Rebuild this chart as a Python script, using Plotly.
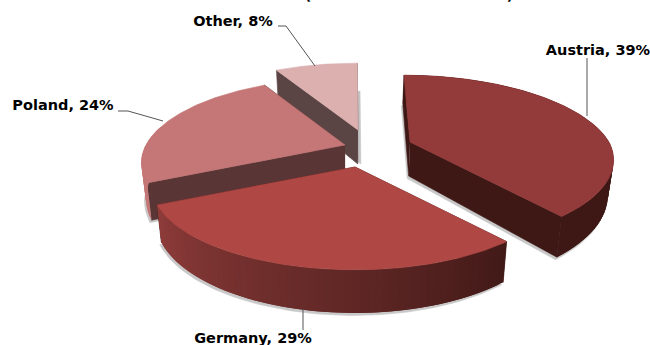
import numpy as np
import plotly.graph_objects as go

# Share of total by country, clockwise from twelve o'clock
countries = ["Austria", "Germany", "Poland", "Other"]
shares = [39, 29, 24, 8]

# Slice styling
top_colors = ["#933B3A", "#AF4845", "#C47776", "#DDB0B0"]
cut_colors = ["#3E1815", "#421A18", "#593535", "#5A4444"]
rim_left = ["#3E1815", "#8E3C3A", "#C47776", "#DDB0B0"]
rim_right = ["#3E1815", "#421A18", "#C47776", "#DDB0B0"]
# Exploded apex of each slice on the page
apex_x = [410, 355, 345, 358]
apex_y = [142, 167, 145, 130]
draw_order = [3, 2, 0, 1]

RX, RY, PERSP, DEPTH = 199.0, 81.0, 0.212, 34.0
VANISH_X, CONVERGE, FLOOR_CONVERGE = 350.0, 0.1, 0.022
W, H = 650, 345


def project(theta, ax):
    """Rim offset for a clockwise angle, in a tilted perspective view."""
    x, y = np.sin(theta), -np.cos(theta)
    f = 1.0 / (1.0 - PERSP * y)
    # The far half of an off-centre slice leans toward the vanishing point
    lean = (ax - VANISH_X) * CONVERGE * np.minimum(y, 0.0)
    return x * RX * f + lean, y * RY * f, f


def floor_x(x):
    """Underside of a slice: it draws in slightly toward the vanishing point."""
    return x - FLOOR_CONVERGE * (x - VANISH_X)


def lerp_hex(a, b, t):
    ca = [int(a[i:i + 2], 16) for i in (1, 3, 5)]
    cb = [int(b[i:i + 2], 16) for i in (1, 3, 5)]
    return "rgb(%d,%d,%d)" % tuple(round(p + (q - p) * t) for p, q in zip(ca, cb))


fig = go.Figure()


def poly(xs, ys, color, edge=0.6):
    fig.add_trace(go.Scatter(x=list(xs), y=list(ys), mode="lines", fill="toself",
                             fillcolor=color, line=dict(width=edge, color=color),
                             hoverinfo="skip", showlegend=False))


edges = np.cumsum([0] + shares) / sum(shares) * 2 * np.pi
spans = [(edges[i], edges[i + 1]) for i in range(len(shares))]

# Soft ground shadow under every slice
for i in draw_order:
    a0, a1 = spans[i]
    t = np.linspace(a0, a1, 80)
    px, py, pf = project(t, apex_x[i])
    xs = floor_x(np.r_[apex_x[i], apex_x[i] + px, apex_x[i]])
    ys = np.r_[apex_y[i] + DEPTH, apex_y[i] + py + DEPTH * pf, apex_y[i] + DEPTH]
    if i == 3:
        poly(xs + 3, ys, "#C4C4C4")
    else:
        poly(xs - 1.5, ys + 2.5, "#C8C8C8")

for i in draw_order:
    a0, a1 = spans[i]
    ax, ay = apex_x[i], apex_y[i]

    # Flat cut faces, back ones first
    for edge in (a1, a0):
        ex, ey, ef = project(np.array([edge]), ax)
        poly([ax, ax + ex[0], floor_x(ax + ex[0]), floor_x(ax)],
             [ay, ay + ey[0], ay + ey[0] + DEPTH * ef[0], ay + DEPTH],
             cut_colors[i])

    # Curved outer wall: overlapping strips so it can carry a gradient without seams
    n = 60
    t = np.linspace(a0, a1, n + 1)
    px, py, pf = project(t, ax)
    for k in range(n):
        if py[k] + py[k + 1] < -2 * RY * 0.2 and i != 0:
            continue
        j = min(k + 2, n)
        c = lerp_hex(rim_right[i], rim_left[i], k / (n - 1))
        poly([ax + px[k], ax + px[j], floor_x(ax + px[j]), floor_x(ax + px[k])],
             [ay + py[k], ay + py[j], ay + py[j] + DEPTH * pf[j],
              ay + py[k] + DEPTH * pf[k]], c, edge=0)

    # Top face
    t = np.linspace(a0, a1, 120)
    px, py, _ = project(t, ax)
    poly(np.r_[ax, ax + px, ax], np.r_[ay, ay + py, ay], top_colors[i])

# Leader lines
leaders = [([587, 587], [58, 116]), ([303, 303], [309, 330]),
           ([118, 128, 163], [111, 111, 121]), ([278, 286, 315], [26, 26, 66])]
for lx, ly in leaders:
    fig.add_trace(go.Scatter(x=lx, y=ly, mode="lines", hoverinfo="skip", showlegend=False,
                             line=dict(color="#555555", width=1)))

# Slice labels
label_x = [598, 253, 63, 233]
label_y = [51, 339, 106, 22]
fig.add_trace(go.Scatter(
    x=label_x, y=label_y, mode="text", hoverinfo="skip", showlegend=False,
    text=[f"<b>{c}, {s}%</b>" for c, s in zip(countries, shares)],
    textfont=dict(family="DejaVu Sans", size=14.5, color="#000000"),
))

# Brackets of the heading, which runs off the top of the page
fig.add_trace(go.Scatter(
    x=[308, 510], y=[-4, -4], mode="text", hoverinfo="skip", showlegend=False,
    text=["<b>(</b>", "<b>)</b>"],
    textfont=dict(family="DejaVu Sans", size=14, color="#000000"),
))

fig.update_layout(
    width=W, height=H, margin=dict(l=0, r=0, t=0, b=0),
    paper_bgcolor="white", plot_bgcolor="white", showlegend=False,
    xaxis=dict(range=[0, W], visible=False, fixedrange=True),
    yaxis=dict(range=[H, 0], visible=False, fixedrange=True),
)
fig.write_html("out.html", config=dict(displayModeBar=False))
